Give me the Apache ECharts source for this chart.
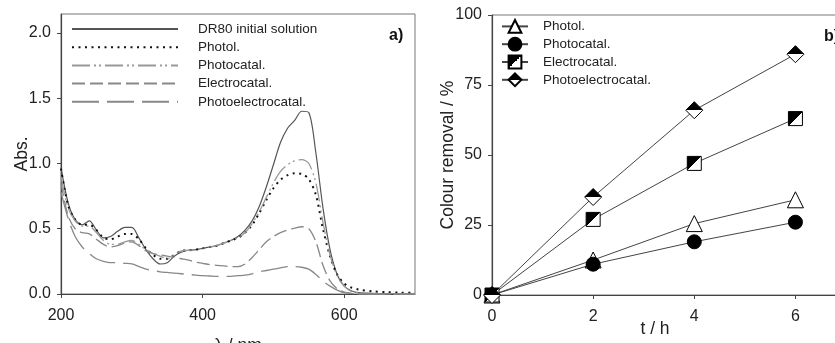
<!DOCTYPE html>
<html>
<head>
<meta charset="utf-8">
<script src="https://cdn.jsdelivr.net/npm/echarts@6/dist/echarts.min.js"></script>
<style>
  html, body { margin: 0; padding: 0; background: #fff; }
  #chart { width: 835px; height: 343px; }
</style>
</head>
<body>
<div id="chart"></div>
<script>
// a) UV-vis spectra, wavelength in nm
const wavelengths = [200, 210, 220, 230, 240, 250, 260, 270, 280, 290, 300, 310, 320, 330, 340, 350, 360, 370, 380, 390, 400, 410, 420, 430, 440, 450, 460, 470, 480, 490, 500, 510, 520, 530, 540, 550, 560, 570, 580, 590, 600, 610, 620, 640, 660, 680, 700]
const dr80Initial = [0.97, 0.70, 0.57, 0.53, 0.56, 0.49, 0.43, 0.44, 0.48, 0.51, 0.51, 0.43, 0.34, 0.27, 0.23, 0.24, 0.29, 0.32, 0.335, 0.34, 0.35, 0.36, 0.37, 0.39, 0.41, 0.44, 0.49, 0.56, 0.67, 0.82, 0.99, 1.16, 1.27, 1.33, 1.40, 1.39, 1.08, 0.66, 0.34, 0.15, 0.06, 0.025, 0.01, 0.005, 0, 0, 0]
const photolSpectrum = [0.96, 0.68, 0.57, 0.53, 0.53, 0.49, 0.43, 0.42, 0.44, 0.46, 0.46, 0.42, 0.35, 0.30, 0.27, 0.27, 0.30, 0.33, 0.335, 0.34, 0.35, 0.36, 0.37, 0.39, 0.41, 0.43, 0.47, 0.53, 0.62, 0.72, 0.81, 0.875, 0.91, 0.925, 0.92, 0.88, 0.76, 0.50, 0.29, 0.15, 0.08, 0.05, 0.035, 0.02, 0.015, 0.01, 0.01]
const photocatalSpectrum = [0.90, 0.66, 0.56, 0.52, 0.52, 0.47, 0.41, 0.38, 0.38, 0.40, 0.41, 0.38, 0.34, 0.31, 0.29, 0.27, 0.30, 0.33, 0.335, 0.34, 0.35, 0.36, 0.37, 0.39, 0.41, 0.43, 0.47, 0.54, 0.63, 0.74, 0.85, 0.94, 0.99, 1.02, 1.03, 1.00, 0.85, 0.55, 0.30, 0.14, 0.06, 0.02, 0.01, 0, 0, 0, 0]
const electrocatalSpectrum = [0.85, 0.60, 0.50, 0.47, 0.46, 0.42, 0.38, 0.36, 0.37, 0.39, 0.40, 0.37, 0.33, 0.31, 0.30, 0.29, 0.28, 0.27, 0.26, 0.245, 0.235, 0.225, 0.22, 0.215, 0.21, 0.21, 0.23, 0.28, 0.34, 0.40, 0.44, 0.47, 0.49, 0.505, 0.515, 0.50, 0.40, 0.22, 0.10, 0.04, 0.015, 0.005, 0, 0, 0, 0, 0]
const photoelectrocatalSpectrum = [0.78, 0.58, 0.44, 0.36, 0.31, 0.27, 0.25, 0.24, 0.24, 0.235, 0.23, 0.21, 0.19, 0.18, 0.17, 0.165, 0.16, 0.155, 0.15, 0.145, 0.14, 0.138, 0.135, 0.135, 0.135, 0.14, 0.145, 0.155, 0.17, 0.18, 0.19, 0.20, 0.21, 0.21, 0.205, 0.19, 0.15, 0.10, 0.06, 0.03, 0.01, 0.005, 0, 0, 0, 0, 0]
const spectraNames = ['DR80 initial solution', 'Photol.', 'Photocatal.', 'Electrocatal.', 'Photoelectrocatal.']

// b) colour removal vs time
const times = [0, 2, 4, 6]
const photolRemoval = [0, 12.5, 25.5, 34]
const photocatalRemoval = [0, 11, 19, 26]
const electrocatalRemoval = [0, 27, 47, 63]
const photoelectrocatalRemoval = [0, 35, 66, 86]
const removalNames = ['Photol.', 'Photocatal.', 'Electrocatal.', 'Photoelectrocatal.']

// tick labels
const absTicks = [0, 0.5, 1, 1.5, 2]
const lambdaTicks = [200, 400, 600]
const timeTicks = [0, 2, 4, 6]
const removalTicks = [0, 25, 50, 75, 100]

const FONT = '"Liberation Sans", Arial, sans-serif'
const chart = echarts.init(document.getElementById('chart'))

function spectrum(name, values, color, width, type) {
  return {
    name: name,
    type: 'line',
    xAxisIndex: 0,
    yAxisIndex: 0,
    data: wavelengths.map((w, i) => [w, values[i]]),
    symbol: 'none',
    smooth: 0.3,
    lineStyle: { color: color, width: width, type: type },
    itemStyle: { color: color },
    z: 3
  }
}

// b) series get a prefix so they don't clash with the a) legend names
function removal(name, values, symbol, size, fill) {
  return {
    name: 'b:' + name,
    type: 'line',
    xAxisIndex: 1,
    yAxisIndex: 1,
    data: times.map((t, i) => [t, values[i]]),
    symbol: symbol,
    symbolSize: size,
    clip: false,
    lineStyle: { color: '#444', width: 1 },
    itemStyle: { color: fill, borderColor: '#000', borderWidth: 1 },
    z: 4
  }
}

const halfSquare = new echarts.graphic.LinearGradient(0, 0, 1, 1, [
  { offset: 0.5, color: '#000' }, { offset: 0.5, color: '#fff' }
])
const halfDiamond = new echarts.graphic.LinearGradient(0, 0, 0, 1, [
  { offset: 0.5, color: '#000' }, { offset: 0.5, color: '#fff' }
])

const tickLabel = { color: '#222', fontSize: 16, fontFamily: FONT }
const nameStyle = { color: '#222', fontSize: 17.5, fontFamily: FONT }

chart.setOption({
  backgroundColor: '#fff',
  animation: false,
  textStyle: { fontFamily: FONT },
  title: [
    { text: 'a)', left: 384, top: 23, textStyle: { fontSize: 16, fontWeight: 'bold', color: '#111', fontFamily: FONT } },
    { text: 'b)', left: 819, top: 24, textStyle: { fontSize: 16, fontWeight: 'bold', color: '#111', fontFamily: FONT } }
  ],
  legend: [
    {
      data: spectraNames,
      orient: 'vertical',
      left: 66,
      top: 17,
      itemWidth: 106,
      itemHeight: 14,
      itemGap: 4.2,
      selectedMode: false,
      itemStyle: { opacity: 0 },
      textStyle: { fontSize: 13.5, color: '#222', fontFamily: FONT, padding: [0, 0, 0, 15] }
    },
    {
      data: removalNames.map(n => 'b:' + n),
      formatter: n => n.slice(2),
      orient: 'vertical',
      left: 496,
      top: 14,
      itemWidth: 26,
      itemHeight: 16,
      itemGap: 3,
      selectedMode: false,
      textStyle: { fontSize: 13.5, color: '#222', fontFamily: FONT, padding: [0, 0, 0, 10] }
    }
  ],
  grid: [
    { left: 61, top: 14, width: 354, height: 280, outerBoundsMode: 'none', show: true, borderColor: '#777', borderWidth: 1 },
    { left: 492, top: 15, width: 354, height: 280, outerBoundsMode: 'none', show: true, borderColor: '#777', borderWidth: 1 }
  ],
  xAxis: [
    {
      gridIndex: 0, type: 'value', min: 200, max: 700,
      name: 'λ / nm', nameLocation: 'middle', nameGap: 43, nameMoveOverlap: false, nameTextStyle: nameStyle,
      axisLine: { lineStyle: { color: '#444', width: 1.2 } },
      axisTick: { length: 4, lineStyle: { color: '#444' }, customValues: lambdaTicks },
      axisLabel: Object.assign({ margin: 14, customValues: lambdaTicks }, tickLabel),
      splitLine: { show: false }
    },
    {
      gridIndex: 1, type: 'value', min: 0, max: 7,
      name: 't / h', nameLocation: 'middle', nameGap: 25, nameMoveOverlap: false,
      nameTextStyle: Object.assign({ padding: [0, 28, 0, 0] }, nameStyle),
      axisLine: { lineStyle: { color: '#444', width: 1.2 } },
      axisTick: { length: 4, lineStyle: { color: '#444' }, customValues: timeTicks },
      axisLabel: Object.assign({ margin: 14, customValues: timeTicks }, tickLabel),
      splitLine: { show: false }
    }
  ],
  yAxis: [
    {
      gridIndex: 0, type: 'value', min: 0, max: 2.145,
      name: 'Abs.', nameLocation: 'middle', nameGap: 30, nameMoveOverlap: false, nameTextStyle: nameStyle,
      axisLine: { show: true, lineStyle: { color: '#444', width: 1.2 } },
      axisTick: { show: true, length: 4, lineStyle: { color: '#444' }, customValues: absTicks },
      axisLabel: Object.assign({ margin: 10, customValues: absTicks, formatter: v => v.toFixed(1) }, tickLabel),
      splitLine: { show: false }
    },
    {
      gridIndex: 1, type: 'value', min: 0, max: 100,
      name: 'Colour removal / %', nameLocation: 'middle', nameGap: 35, nameMoveOverlap: false, nameTextStyle: nameStyle,
      axisLine: { show: true, lineStyle: { color: '#444', width: 1.2 } },
      axisTick: { show: true, length: 4, lineStyle: { color: '#444' }, customValues: removalTicks },
      axisLabel: Object.assign({ margin: 10, customValues: removalTicks }, tickLabel),
      splitLine: { show: false }
    }
  ],
  series: [
    spectrum(spectraNames[0], dr80Initial, '#555', 1.2, 'solid'),
    spectrum(spectraNames[1], photolSpectrum, '#111', 2, [2, 4.5]),
    spectrum(spectraNames[2], photocatalSpectrum, '#999', 1.3, [18, 4, 2, 3, 2, 4]),
    spectrum(spectraNames[3], electrocatalSpectrum, '#888', 1.3, [13, 5]),
    spectrum(spectraNames[4], photoelectrocatalSpectrum, '#888', 1.3, [27, 8]),
    removal(removalNames[0], photolRemoval, 'triangle', 16, '#fff'),
    removal(removalNames[1], photocatalRemoval, 'circle', 14, '#000'),
    removal(removalNames[2], electrocatalRemoval, 'rect', 14, halfSquare),
    removal(removalNames[3], photoelectrocatalRemoval, 'diamond', [17, 17], halfDiamond)
  ]
})
</script>
</body>
</html>
